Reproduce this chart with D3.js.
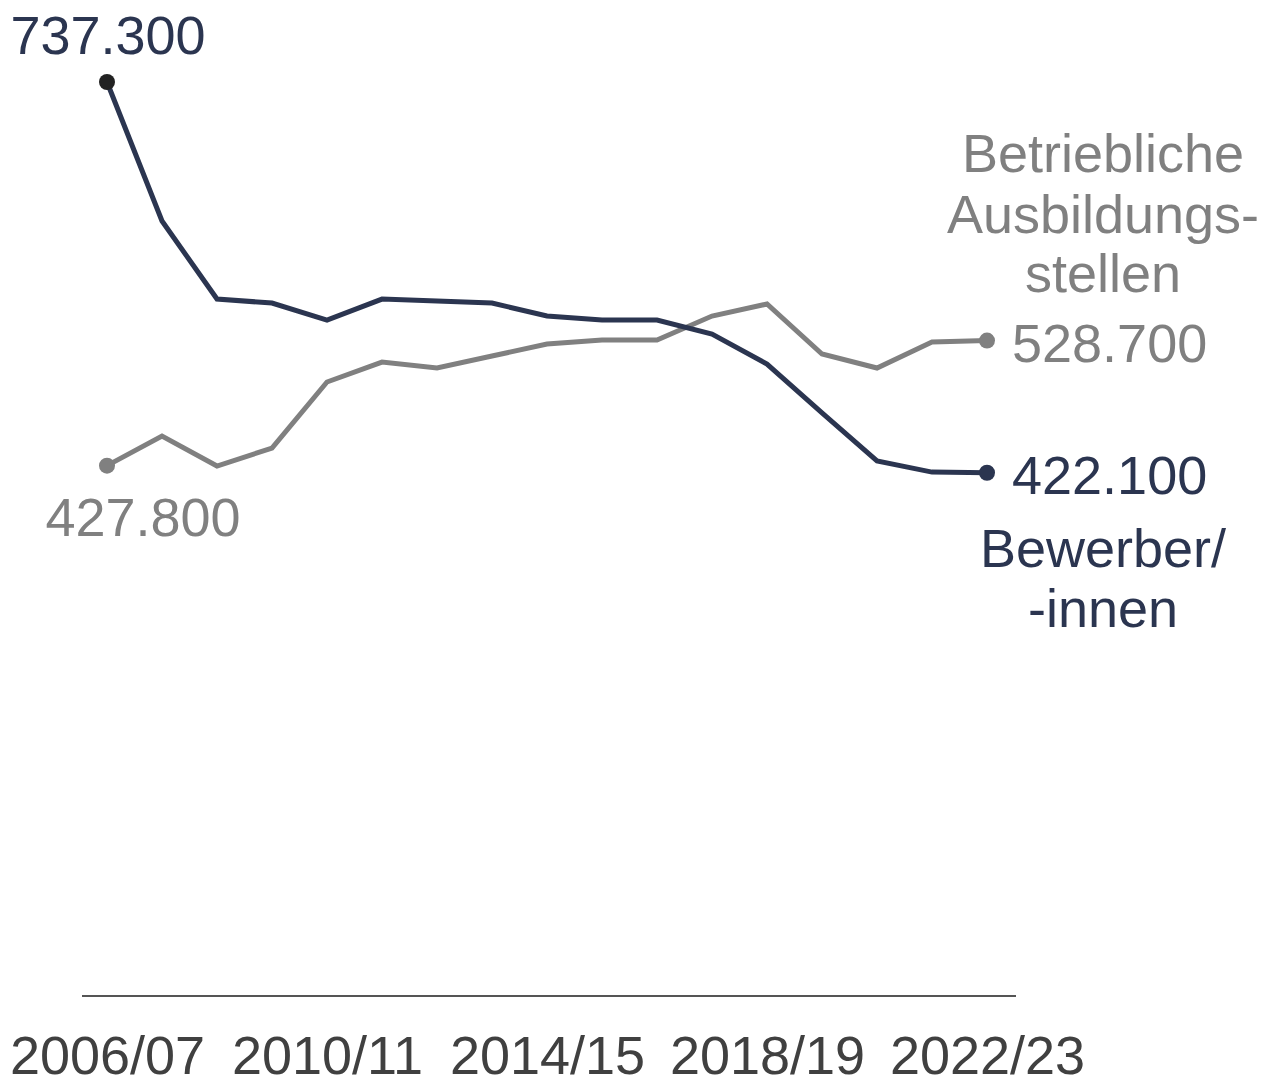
<!DOCTYPE html>
<html><head><meta charset="utf-8">
<script src="https://cdn.jsdelivr.net/npm/d3@7"></script>
<style>body{margin:0;background:#fff}svg{display:block}text{font-family:"Liberation Sans",Arial,sans-serif}</style>
</head><body><svg id="c" width="1261" height="1081"></svg>
<script>
const years = ["2006/07","2007/08","2008/09","2009/10","2010/11","2011/12","2012/13","2013/14","2014/15","2015/16","2016/17","2017/18","2018/19","2019/20","2020/21","2021/22","2022/23"];
const tickLabels = ["2006/07","2010/11","2014/15","2018/19","2022/23"];
const bewerber = [737.3,625.2,562.2,559.0,545.3,562.2,560.6,559.0,548.5,545.3,545.3,534.0,509.8,470.3,431.6,422.6,422.1];
const stellen = [427.8,451.7,427.5,442.0,495.3,511.4,506.6,516.3,525.9,529.2,529.2,548.5,558.2,517.9,506.6,527.5,528.7];

const svg = d3.select("#c");
const x = d3.scalePoint().domain(years).range([107,987]);
const y = d3.scaleLinear().domain([0,737.3]).range([996,82]);
const navy = "#2b3550", grey = "#808080";
const fs = 54;

svg.append("line").attr("x1",82).attr("x2",1016).attr("y1",y(0)).attr("y2",y(0))
  .attr("stroke","#555").attr("stroke-width",2);

const xAxis = d3.axisBottom(x).tickValues(tickLabels).tickSize(0).tickPadding(0);
const ax = svg.append("g").attr("transform","translate(0,1074)").call(xAxis);
ax.select(".domain").remove();
ax.selectAll("text").attr("font-size",fs).attr("fill","#404040").attr("dy",0)
  .attr("font-family","'Liberation Sans',Arial,sans-serif");

const line = d3.line().x((d,i)=>x(years[i])).y(d=>y(d));
svg.append("path").datum(stellen).attr("d",line).attr("fill","none").attr("stroke",grey).attr("stroke-width",5);
svg.append("path").datum(bewerber).attr("d",line).attr("fill","none").attr("stroke",navy).attr("stroke-width",5);

const last = years.length-1;
svg.append("circle").attr("cx",x(years[0])).attr("cy",y(stellen[0])).attr("r",8).attr("fill",grey);
svg.append("circle").attr("cx",x(years[last])).attr("cy",y(stellen[last])).attr("r",8).attr("fill",grey);
svg.append("circle").attr("cx",x(years[0])).attr("cy",y(bewerber[0])).attr("r",8).attr("fill","#222");
svg.append("circle").attr("cx",x(years[last])).attr("cy",y(bewerber[last])).attr("r",8).attr("fill",navy);

function lab(t,xx,yy,col,anchor){svg.append("text").attr("x",xx).attr("y",yy).attr("font-size",fs).attr("fill",col).attr("text-anchor",anchor).text(t);}
lab("737.300",108,54,navy,"middle");
lab("427.800",143,536,grey,"middle");
lab("528.700",1012,362,grey,"start");
lab("422.100",1012,494,navy,"start");
lab("Betriebliche",1103,172,grey,"middle");
lab("Ausbildungs-",1103,233,grey,"middle");
lab("stellen",1103,292,grey,"middle");
lab("Bewerber/",1103,567,navy,"middle");
lab("-innen",1103,627,navy,"middle");
</script></body></html>
